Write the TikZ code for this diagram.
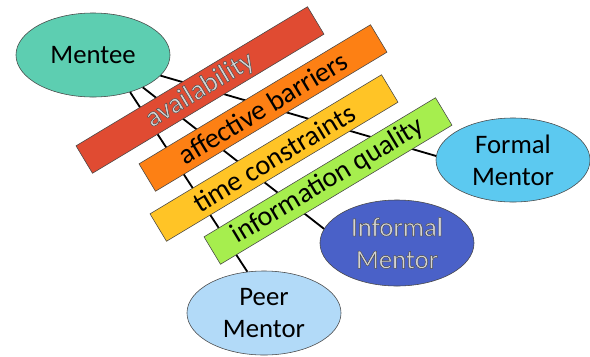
\documentclass[tikz,border=0pt]{standalone}
\usepackage{fontspec}
\setmainfont{Carlito}
\usepackage{tikz}
\usepackage{xcolor}
\usetikzlibrary{shapes.geometric}
\definecolor{menteegreen}{RGB}{93,206,177}
\definecolor{availred}{RGB}{224,75,50}
\definecolor{barrierorange}{RGB}{253,128,20}
\definecolor{timeyellow}{RGB}{255,196,38}
\definecolor{infogreen}{RGB}{166,238,78}
\definecolor{formalblue}{RGB}{92,201,240}
\definecolor{informalblue}{RGB}{74,97,200}
\definecolor{peerblue}{RGB}{178,218,248}
\definecolor{edgegray}{RGB}{70,70,70}
\definecolor{palegray}{RGB}{212,212,212}
% light letters with a thin dark rim (pdf text render mode 2)
\newcommand{\outlined}[1]{\textcolor{palegray}{\special{pdf:literal direct 0.3 0.3 0.3 RG 0.35 w 2 Tr}#1\special{pdf:literal direct 0 Tr}}}

\begin{document}
\begin{tikzpicture}[x=0.025cm, y=-0.025cm,
		person/.style={ellipse, draw=edgegray, line width=0.4pt, minimum width=3.85cm,
			minimum height=2.1cm, inner sep=0pt, align=center,
			font=\fontsize{19}{23}\selectfont},
		factor/.style={draw=edgegray, line width=0.4pt, minimum width=6.75cm,
			minimum height=0.8cm, inner sep=0pt, rotate=31,
			font=\fontsize{20}{24}\selectfont},
		link/.style={draw=black, line width=1.3pt}
	]
		\useasboundingbox (0,0) rectangle (590,356);
		\node[person, fill=menteegreen] (mentee) at (93,55) {Mentee};
		\node[person, fill=formalblue] (formal) at (513,160) {Formal\\Mentor};
		\node[person, fill=informalblue, minimum height=2.15cm] (informal) at (397,243) {\outlined{Informal}\\\outlined{Mentor}};
		\node[person, fill=peerblue] (peer) at (264,313) {Peer\\Mentor};
		\foreach \a/\b in {mentee.-45/peer.112,mentee.-33/informal.169,mentee.-17/formal.177}
			\draw[link] (\a) -- (\b);
		\node[factor, fill=availred] (avail) at (200,90) {\outlined{availability}};
		\node[factor, fill=barrierorange] (barriers) at (263,108) {affective barriers};
		\node[factor, fill=timeyellow] (time) at (274,158) {time constraints};
		\node[factor, fill=infogreen] (info) at (328,181) {information quality};
	\end{tikzpicture}
\end{document}
